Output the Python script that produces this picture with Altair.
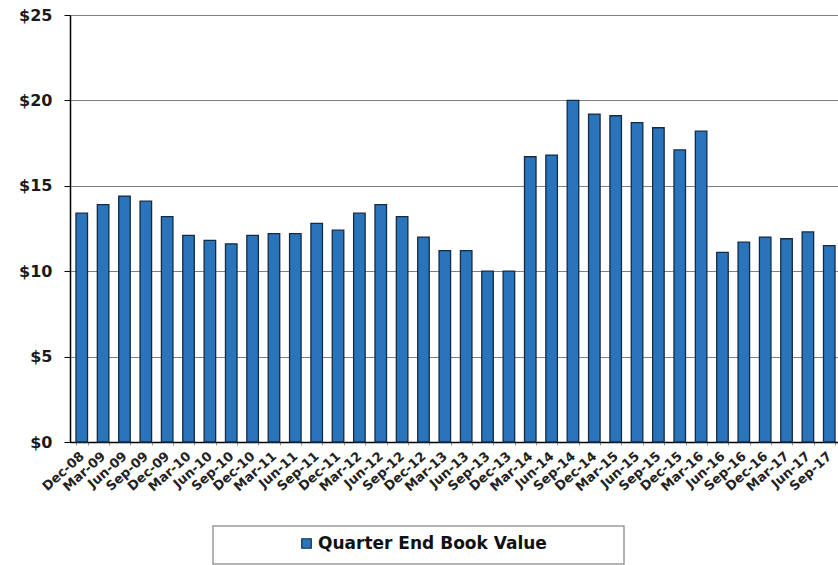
import altair as alt
import pandas as pd

# Quarter-end book value per share, Dec-08 through Sep-17
quarters = [
    "Dec-08", "Mar-09", "Jun-09", "Sep-09", "Dec-09", "Mar-10", "Jun-10", "Sep-10",
    "Dec-10", "Mar-11", "Jun-11", "Sep-11", "Dec-11", "Mar-12", "Jun-12", "Sep-12",
    "Dec-12", "Mar-13", "Jun-13", "Sep-13", "Dec-13", "Mar-14", "Jun-14", "Sep-14",
    "Dec-14", "Mar-15", "Jun-15", "Sep-15", "Dec-15", "Mar-16", "Jun-16", "Sep-16",
    "Dec-16", "Mar-17", "Jun-17", "Sep-17",
]
book_values = [
    13.4, 13.9, 14.4, 14.1, 13.2, 12.1, 11.8, 11.6,
    12.1, 12.2, 12.2, 12.8, 12.4, 13.4, 13.9, 13.2,
    12.0, 11.2, 11.2, 10.0, 10.0, 16.7, 16.8, 20.0,
    19.2, 19.1, 18.7, 18.4, 17.1, 18.2, 11.1, 11.7,
    12.0, 11.9, 12.3, 11.5,
]
series_name = "Quarter End Book Value"
y_ticks = [0, 5, 10, 15, 20, 25]

df = pd.DataFrame({"quarter": quarters, "value": book_values, "series": series_name})

FONT = "DejaVu Sans"
BAR_BLUE = "#2a74bb"
BAR_EDGE = "#142b45"

bars = alt.Chart(df).mark_bar(
    stroke=BAR_EDGE, strokeWidth=1.3
).encode(
    x=alt.X(
        "quarter:N",
        sort=quarters,
        title=None,
        scale=alt.Scale(range=[0, 771], paddingInner=0.46, paddingOuter=0.28),
        axis=alt.Axis(
            labelAngle=-42,
            labelAlign="right",
            labelBaseline="middle",
            labelFont=FONT,
            labelFontWeight="bold",
            labelFontSize=13,
            labelColor="#222222",
            labelPadding=9,
            domainColor="#000000",
            domainWidth=1.5,
            tickBand="extent",
            tickSize=3,
            tickColor="#999999",
            labelOverlap=False,
        ),
    ),
    y=alt.Y(
        "value:Q",
        title=None,
        scale=alt.Scale(domain=[0, 25], nice=False),
        axis=alt.Axis(
            values=y_ticks,
            format="$.0f",
            labelFont=FONT,
            labelFontWeight="bold",
            labelFontSize=16,
            labelColor="#1a1a1a",
            labelPadding=12,
            tickSize=6,
            tickColor="#000000",
            domainColor="#000000",
            domainWidth=1.5,
            gridColor="#7f7f7f",
            gridWidth=1,
        ),
    ),
    color=alt.Color(
        "series:N",
        scale=alt.Scale(range=[BAR_BLUE]),
        legend=alt.Legend(
            title=None,
            orient="none",
            legendX=228,
            legendY=520,
            symbolType="square",
            symbolSize=90,
            symbolStrokeColor=BAR_EDGE,
            symbolStrokeWidth=1.2,
            labelFont=FONT,
            labelFontWeight="bold",
            labelFontSize=17,
            labelColor="#111111",
            labelOffset=3,
            labelLimit=400,
            padding=0,
        ),
    ),
)

# Frame around the legend entry
legend_frame = alt.Chart(df).mark_rect(
    fill="white", fillOpacity=0, stroke="#9a9a9a", strokeWidth=1.5
).encode(
    x=alt.value(143), x2=alt.value(554), y=alt.value(511), y2=alt.value(549)
).transform_filter(alt.datum.quarter == quarters[0])

chart = alt.layer(bars, legend_frame).properties(
    width=768,
    height=427,
    autosize=alt.AutoSizeParams(type="none"),
    padding={"left": 70, "top": 15, "right": 0, "bottom": 123},
    background="white",
).configure_view(stroke=None)

chart.save("out.html", embed_options={"renderer": "svg", "actions": False})
